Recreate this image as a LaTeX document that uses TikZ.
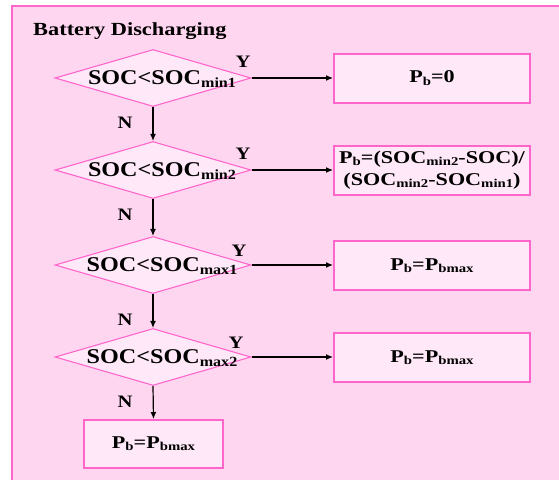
\documentclass[tikz,border=0pt]{standalone}
\usepackage{fontspec}
\setmainfont{Liberation Serif}
\newfontfamily\tfont[FakeStretch=1.21]{Liberation Serif}
\newfontfamily\dfont[FakeStretch=1.15]{Liberation Serif}
\newfontfamily\bfont[FakeStretch=1.23]{Liberation Serif}
\newfontfamily\lfont[FakeStretch=1.18]{Liberation Serif}
\usetikzlibrary{shapes.geometric,arrows.meta}
\definecolor{bgpink}{RGB}{255,214,240}
\definecolor{boxpink}{RGB}{255,233,248}
\definecolor{edgepink}{RGB}{255,102,204}
\newcommand{\dsub}[1]{\raisebox{-3.5pt}{\fontsize{14}{14}\selectfont #1}}
\newcommand{\bsub}[1]{\raisebox{-2.2pt}{\fontsize{12}{12}\selectfont #1}}
\begin{document}
\begin{tikzpicture}[x=1pt,y=-1pt,
  dec/.style={diamond, draw=edgepink, line width=1.1pt, fill=boxpink, minimum width=196pt, minimum height=57pt, inner sep=0pt},
  res/.style={rectangle, draw=edgepink, line width=2pt, fill=boxpink, minimum width=196pt, minimum height=49pt, inner sep=0pt, font=\bfont\bfseries\fontsize{18}{22}\selectfont, align=center},
  dtext/.style={font=\dfont\bfseries\fontsize{21}{24}\selectfont, inner sep=0pt},
  lbl/.style={font=\lfont\bfseries\fontsize{17.5}{17.5}\selectfont, inner sep=0pt},
  arr/.style={draw=black, line width=1.2pt, -{Latex[length=7pt,width=6pt]}}]
\useasboundingbox (0,0) rectangle (559,480);
\fill[white] (0,0) rectangle (559,480);
\fill[bgpink] (12,6) rectangle (559,480);
\draw[edgepink, line width=1.5pt] (12,480) -- (12,6) -- (559,6);
\node[anchor=west, font=\tfont\bfseries\fontsize{18.5}{18.5}\selectfont, inner sep=0pt] (title) at (33,31) {Battery Discharging};
% decisions
\node[dec] (d1) at (153,78) {};
\node[dec] (d2) at (153,170) {};
\node[dec] (d3) at (153,265) {};
\node[dec] (d4) at (153,357) {};
\node[dtext] (t1) at (162,79) {SOC<SOC\dsub{min1}};
\node[dtext] (t2) at (162,171) {SOC<SOC\dsub{min2}};
\node[dtext] (t3) at (162,266) {SOC<SOC\dsub{max1}};
\node[dtext] (t4) at (162,358) {SOC<SOC\dsub{max2}};
% results
\node[res] (r1) at (432,78) {P\bsub{b}=0};
\node[res] (r2) at (432,170) {P\bsub{b}=(SOC\bsub{min2}-SOC)/\\(SOC\bsub{min2}-SOC\bsub{min1})};
\node[res] (r3) at (432,265.5) {P\bsub{b}=P\bsub{bmax}};
\node[res] (r4) at (432,357.5) {P\bsub{b}=P\bsub{bmax}};
\node[res, minimum width=139pt, minimum height=48pt] (r5) at (153.5,444) {P\bsub{b}=P\bsub{bmax}};
% connectors
\draw[arr] (d1.east) -- (r1.west);
\draw[arr] (d2.east) -- (r2.west);
\draw[arr] (d3.east) -- (r3.west |- d3.east);
\draw[arr] (d4.east) -- (r4.west |- d4.east);
\draw[arr] (d1.south) -- (d2.north);
\draw[arr] (d2.south) -- (d3.north);
\draw[arr] (d3.south) -- (d4.north);
\draw[arr] (d4.south) -- (r5.north);
% labels
\node[lbl] (y1) at (243,62) {Y};
\node[lbl] (y2) at (243,154) {Y};
\node[lbl] (y3) at (239,251) {Y};
\node[lbl] (y4) at (236,343) {Y};
\node[lbl] (n1) at (125,123) {N};
\node[lbl] (n2) at (125,215) {N};
\node[lbl] (n3) at (125,320) {N};
\node[lbl] (n4) at (125,402) {N};
\end{tikzpicture}
\end{document}
